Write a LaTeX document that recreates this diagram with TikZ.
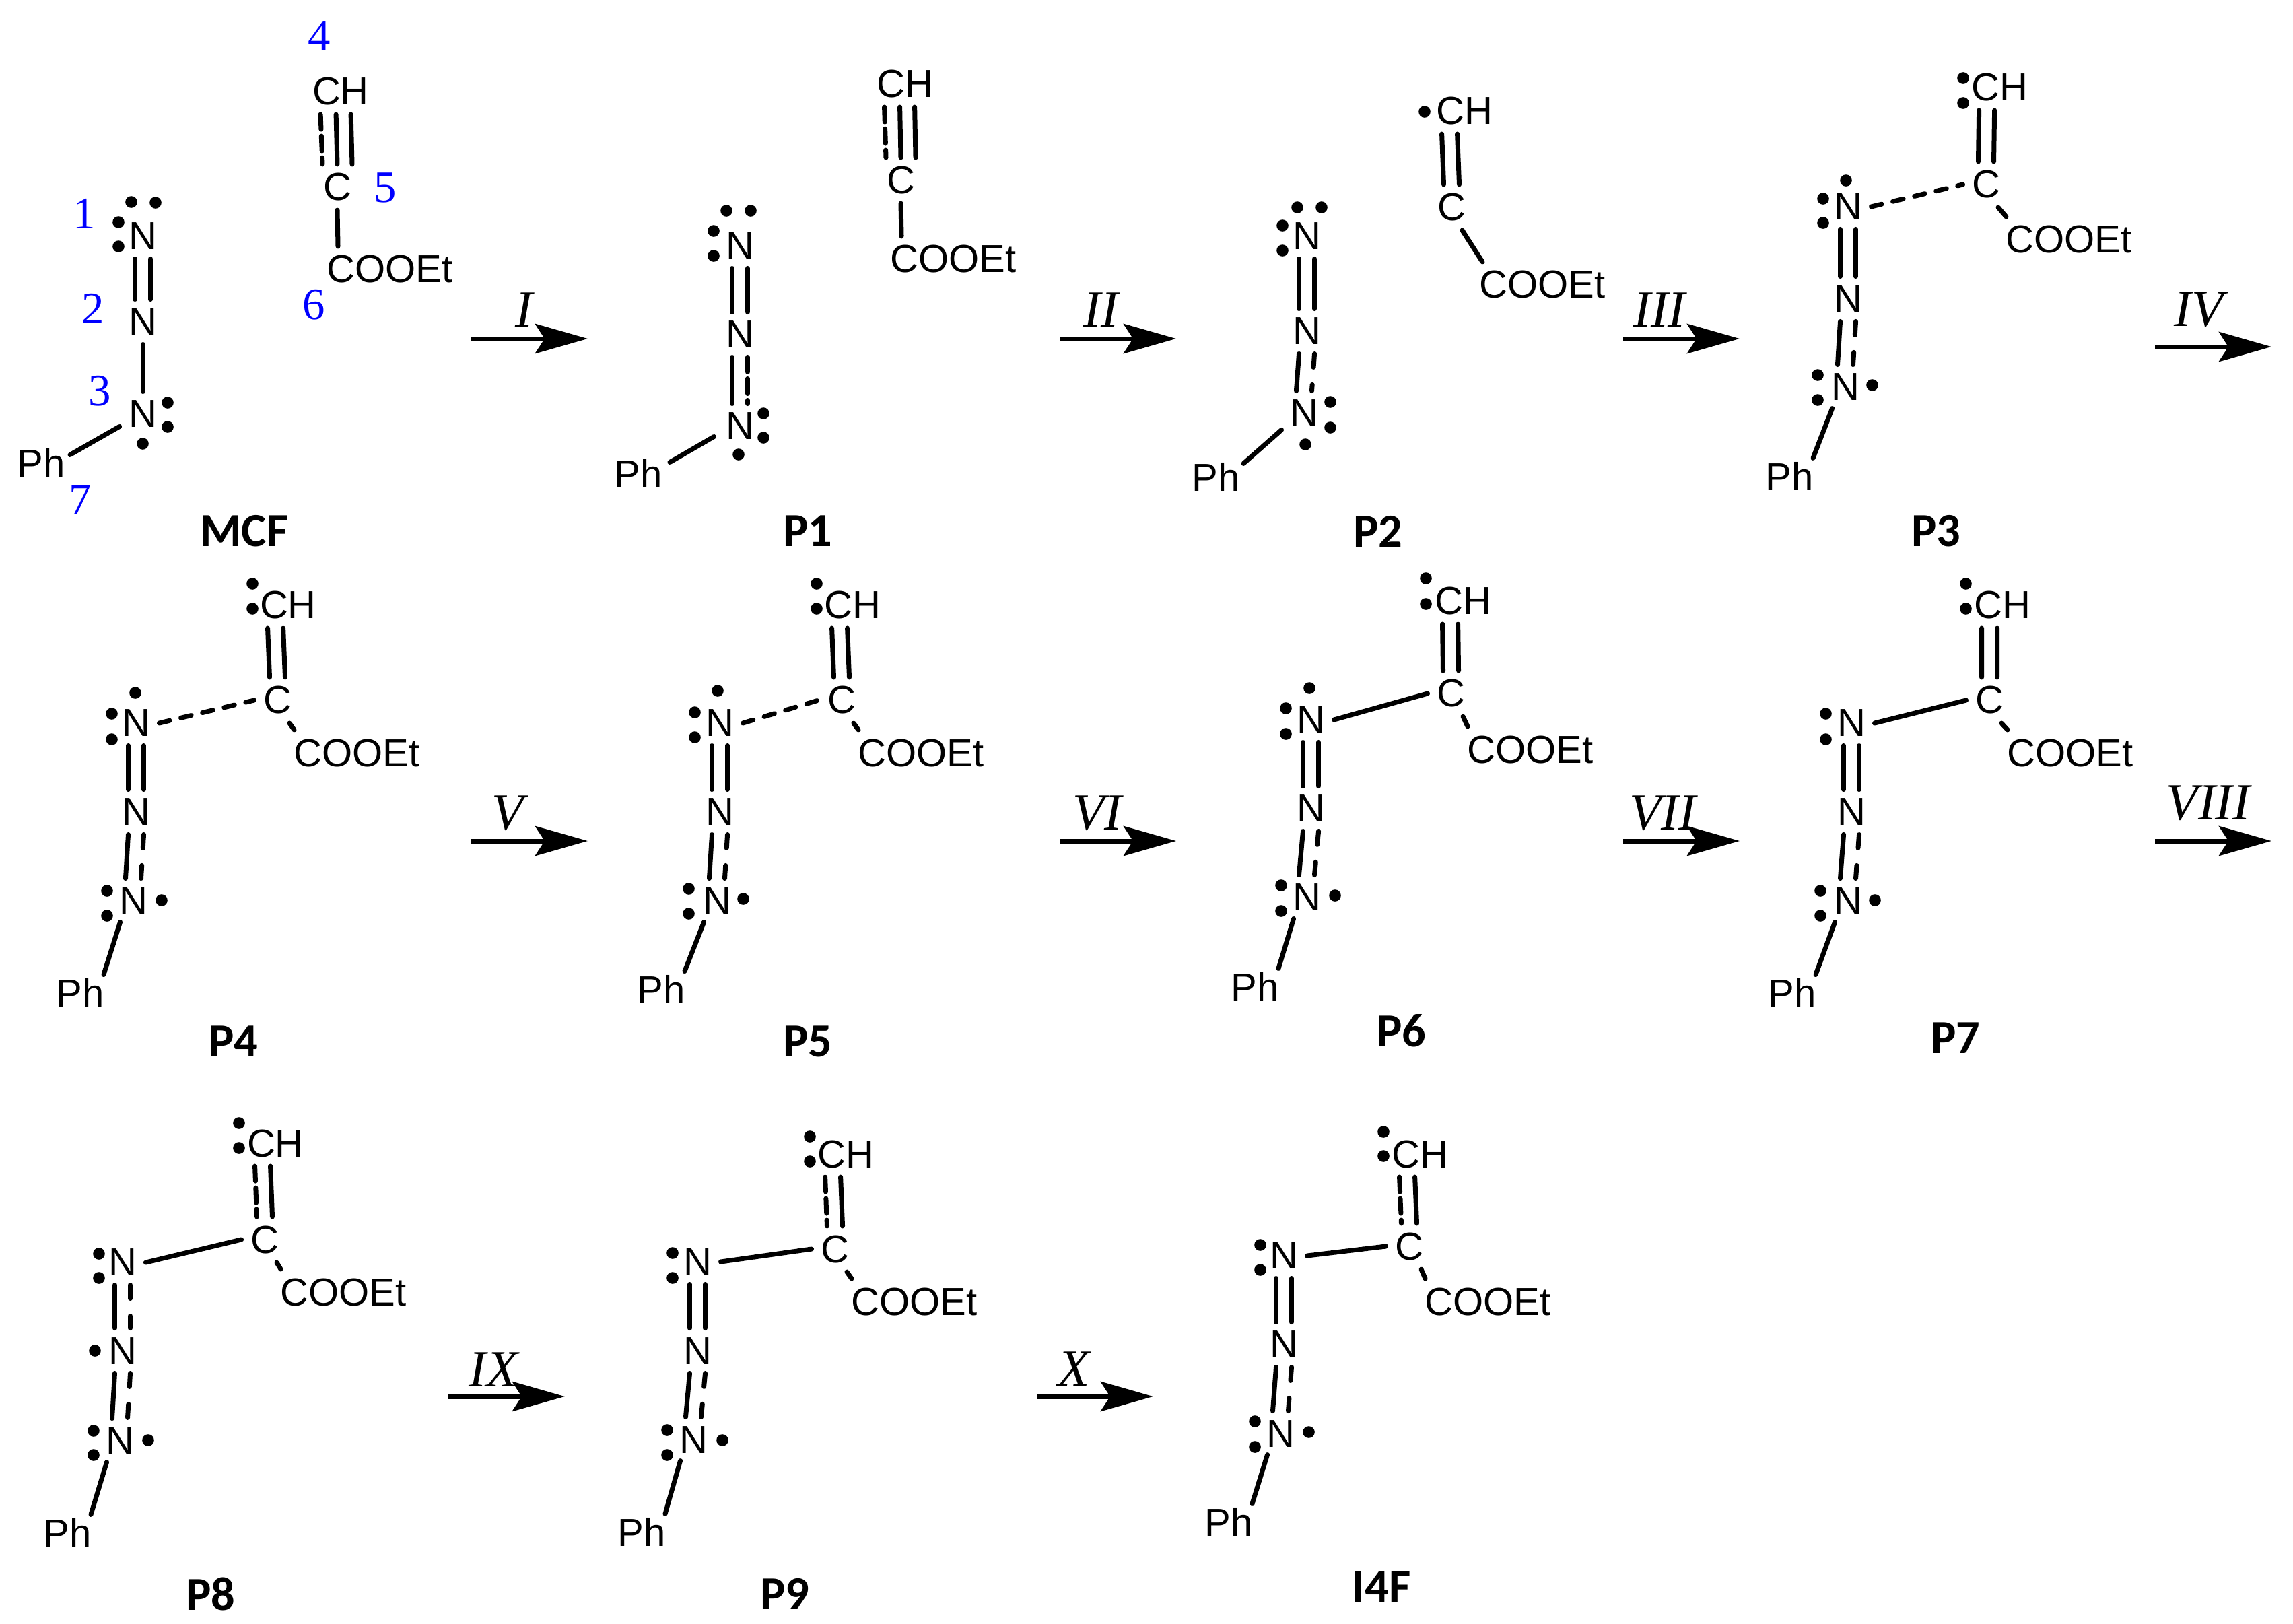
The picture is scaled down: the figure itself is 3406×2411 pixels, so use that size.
\documentclass[tikz,border=0pt]{standalone}
\usepackage{fontspec}
\setmainfont{Liberation Sans}
\newfontfamily\labelfont{Carlito}
\newfontfamily\numfont{Liberation Serif}
\usetikzlibrary{arrows.meta}

\tikzset{
	atom/.style = {font=\fontsize{16.5}{18}\selectfont, inner sep=.135cm, outer sep=0pt},
	name label/.style = {font=\labelfont\bfseries\fontsize{20}{22}\selectfont, inner sep=0pt},
	site/.style = {font=\numfont\fontsize{19}{21}\selectfont, text=blue, inner sep=0pt},
	step label/.style = {font=\numfont\itshape\fontsize{22}{24}\selectfont, inner sep=0pt},
	bond/.style = {line width=.07cm, line cap=round},
	bond fine/.style = {bond, dash pattern=on .22cm off .10cm},
	bond dash/.style = {bond, dash pattern=on .20cm off .26cm},
	bond long/.style = {bond, dash pattern=on .16cm off .17cm},
	rxn/.style = {line width=.07cm, -{Stealth[length=.78cm,width=.44cm,inset=.14cm]}}
}

\begin{document}
\begin{tikzpicture}[x=.01cm,y=-.01cm]
	\useasboundingbox (0,0) rectangle (3406,2411);

	\node[atom] (mcfn1) at (212,351) {N};
	\node[atom] (mcfn2) at (212,478) {N};
	\node[atom] (mcfn3) at (212,615) {N};
	\node[atom] (mcfph) at (61,687) {Ph};
	\node[atom] (mcfch) at (506,136) {CH};
	\node[atom] (mcfc) at (501,278) {C};
	\node[atom] (mcfest) at (579,400) {COOEt};
	\node[name label] (mcflab) at (363,789) {MCF};
	\foreach \s in {-.115cm,.115cm} \draw[bond] ([xshift=\s]mcfn1.south) -- ([xshift=\s]mcfn2.north);
	\draw[bond] (mcfn2.south) -- (mcfn3.north);
	\draw[bond] ([yshift=.15cm]mcfn3.south west) -- ([xshift=-.06cm,yshift=-.23cm]mcfph.north east);
	\draw[bond fine] ([xshift=.255cm]mcfch.south west) -- ([xshift=-.22cm]mcfc.north);
	\draw[bond] ([xshift=.485cm]mcfch.south west) -- (mcfc.north);
	\draw[bond] ([xshift=.705cm]mcfch.south west) -- ([xshift=.22cm]mcfc.north);
	\draw[bond] (mcfc.south) -- ([xshift=.30cm]mcfest.north west);
	\foreach \p in {(195,300),(231,301),(176,330),(176,366),(249,598),(249,634),(212,659)} \fill \p circle (.088cm);
	\node[site] (s1) at (125,317) {1};
	\node[site] (s2) at (138,458) {2};
	\node[site] (s3) at (148,581) {3};
	\node[site] (s4) at (474,53) {4};
	\node[site] (s5) at (572,279) {5};
	\node[site] (s6) at (466,453) {6};
	\node[site] (s7) at (119,743) {7};

	\node[atom] (p1n1) at (1099,365) {N};
	\node[atom] (p1n2) at (1099,497) {N};
	\node[atom] (p1n3) at (1099,633) {N};
	\node[atom] (p1ph) at (948,703) {Ph};
	\node[atom] (p1ch) at (1344,125) {CH};
	\node[atom] (p1c) at (1338,268) {C};
	\node[atom] (p1est) at (1416,385) {COOEt};
	\node[name label] (p1lab) at (1200,789) {P1};
	\foreach \s in {-.115cm,.115cm} \draw[bond] ([xshift=\s]p1n1.south) -- ([xshift=\s]p1n2.north);
	\draw[bond] ([xshift=-.115cm]p1n2.south) -- ([xshift=-.115cm]p1n3.north);
	\draw[bond fine] ([xshift=.115cm]p1n2.south) -- ([xshift=.115cm]p1n3.north);
	\draw[bond] ([xshift=-.04cm,yshift=.18cm]p1n3.south west) -- ([xshift=-.02cm,yshift=-.18cm]p1ph.north east);
	\draw[bond fine] ([xshift=.25cm]p1ch.south west) -- ([xshift=-.22cm]p1c.north);
	\draw[bond] ([xshift=.48cm]p1ch.south west) -- (p1c.north);
	\draw[bond] ([xshift=.70cm]p1ch.south west) -- ([xshift=.22cm]p1c.north);
	\draw[bond] (p1c.south) -- ([xshift=.30cm]p1est.north west);
	\foreach \p in {(1079,313),(1115,313),(1060,343),(1060,380),(1134,614),(1134,650),(1097,675)} \fill \p circle (.088cm);

	\node[atom] (p2n1) at (1941,351) {N};
	\node[atom] (p2n2) at (1941,492) {N};
	\node[atom] (p2n3) at (1937,614) {N};
	\node[atom] (p2ph) at (1806,708) {Ph};
	\node[atom] (p2ch) at (2175,165) {CH};
	\node[atom] (p2c) at (2156,308) {C};
	\node[atom] (p2est) at (2291,423) {COOEt};
	\node[name label] (p2lab) at (2047,789) {P2};
	\foreach \s in {-.115cm,.115cm} \draw[bond] ([xshift=\s]p2n1.south) -- ([xshift=\s]p2n2.north);
	\draw[bond] ([xshift=-.115cm]p2n2.south) -- ([xshift=-.115cm]p2n3.north);
	\draw[bond dash] ([xshift=.115cm]p2n2.south) -- ([xshift=.115cm]p2n3.north);
	\draw[bond] ([xshift=.01cm,yshift=.09cm]p2n3.south west) -- ([xshift=-.08cm,yshift=-.15cm]p2ph.north east);
	\draw[bond] ([xshift=.22cm]p2ch.south west) -- ([xshift=-.115cm]p2c.north);
	\draw[bond] ([xshift=.45cm]p2ch.south west) -- ([xshift=.115cm]p2c.north);
	\draw[bond] ([xshift=.16cm]p2c.south) -- ([xshift=.18cm]p2est.north west);
	\foreach \p in {(1927,308),(1963,308),(1905,335),(1905,372),(1976,597),(1976,635),(1939,660),(2116,166)} \fill \p circle (.088cm);

	\node[atom] (p3n1) at (2745,307) {N};
	\node[atom] (p3n2) at (2745,444) {N};
	\node[atom] (p3n3) at (2741,575) {N};
	\node[atom] (p3ph) at (2658,707) {Ph};
	\node[atom] (p3ch) at (2970,130) {CH};
	\node[atom] (p3c) at (2950,274) {C};
	\node[atom] (p3est) at (3073,356) {COOEt};
	\node[name label] (p3lab) at (2876,789) {P3};
	\foreach \s in {-.115cm,.115cm} \draw[bond] ([xshift=\s]p3n1.south) -- ([xshift=\s]p3n2.north);
	\draw[bond] ([xshift=-.115cm]p3n2.south) -- ([xshift=-.115cm]p3n3.north);
	\draw[bond dash] ([xshift=.115cm]p3n2.south) -- ([xshift=.115cm]p3n3.north);
	\draw[bond long] (p3n1.east) -- (p3c.west);
	\draw[bond] ([xshift=.15cm,yshift=.02cm]p3n3.south west) -- ([xshift=-.14cm,yshift=-.08cm]p3ph.north east);
	\draw[bond] ([xshift=.25cm]p3ch.south west) -- ([xshift=-.115cm]p3c.north);
	\draw[bond] ([xshift=.48cm]p3ch.south west) -- ([xshift=.115cm]p3c.north);
	\draw[bond] ([xshift=.18cm]p3c.south) -- ([xshift=.14cm]p3est.north west);
	\foreach \p in {(2742,268),(2708,295),(2708,331),(2700,557),(2700,594),(2781,572),(2916,116),(2916,153)} \fill \p circle (.088cm);

	\node[atom] (p4n1) at (202,1074) {N};
	\node[atom] (p4n2) at (202,1206) {N};
	\node[atom] (p4n3) at (198,1338) {N};
	\node[atom] (p4ph) at (119,1474) {Ph};
	\node[atom] (p4ch) at (428,899) {CH};
	\node[atom] (p4c) at (412,1040) {C};
	\node[atom] (p4est) at (530,1118) {COOEt};
	\node[name label] (p4lab) at (347,1547) {P4};
	\foreach \s in {-.115cm,.115cm} \draw[bond] ([xshift=\s]p4n1.south) -- ([xshift=\s]p4n2.north);
	\draw[bond] ([xshift=-.115cm]p4n2.south) -- ([xshift=-.115cm]p4n3.north);
	\draw[bond dash] ([xshift=.115cm]p4n2.south) -- ([xshift=.115cm]p4n3.north);
	\draw[bond long] (p4n1.east) -- (p4c.west);
	\draw[bond] ([xshift=.15cm,yshift=.02cm]p4n3.south west) -- ([xshift=-.14cm,yshift=-.08cm]p4ph.north east);
	\draw[bond] ([xshift=.25cm]p4ch.south west) -- ([xshift=-.115cm]p4c.north);
	\draw[bond] ([xshift=.48cm]p4ch.south west) -- ([xshift=.115cm]p4c.north);
	\draw[bond] ([xshift=.18cm]p4c.south) -- ([xshift=.14cm]p4est.north west);
	\foreach \p in {(201,1029),(166,1060),(166,1098),(159,1323),(159,1360),(240,1337),(375,867),(375,904)} \fill \p circle (.088cm);

	\node[atom] (p5n1) at (1069,1074) {N};
	\node[atom] (p5n2) at (1069,1206) {N};
	\node[atom] (p5n3) at (1065,1338) {N};
	\node[atom] (p5ph) at (982,1469) {Ph};
	\node[atom] (p5ch) at (1266,899) {CH};
	\node[atom] (p5c) at (1250,1040) {C};
	\node[atom] (p5est) at (1368,1118) {COOEt};
	\node[name label] (p5lab) at (1200,1547) {P5};
	\foreach \s in {-.115cm,.115cm} \draw[bond] ([xshift=\s]p5n1.south) -- ([xshift=\s]p5n2.north);
	\draw[bond] ([xshift=-.115cm]p5n2.south) -- ([xshift=-.115cm]p5n3.north);
	\draw[bond dash] ([xshift=.115cm]p5n2.south) -- ([xshift=.115cm]p5n3.north);
	\draw[bond long] (p5n1.east) -- (p5c.west);
	\draw[bond] ([xshift=.15cm,yshift=.02cm]p5n3.south west) -- ([xshift=-.14cm,yshift=-.08cm]p5ph.north east);
	\draw[bond] ([xshift=.25cm]p5ch.south west) -- ([xshift=-.115cm]p5c.north);
	\draw[bond] ([xshift=.48cm]p5ch.south west) -- ([xshift=.115cm]p5c.north);
	\draw[bond] ([xshift=.18cm]p5c.south) -- ([xshift=.14cm]p5est.north west);
	\foreach \p in {(1066,1026),(1032,1058),(1032,1095),(1023,1320),(1023,1357),(1104,1335),(1213,867),(1213,904)} \fill \p circle (.088cm);

	\node[atom] (p6n1) at (1947,1069) {N};
	\node[atom] (p6n2) at (1947,1201) {N};
	\node[atom] (p6n3) at (1941,1333) {N};
	\node[atom] (p6ph) at (1864,1465) {Ph};
	\node[atom] (p6ch) at (2173,893) {CH};
	\node[atom] (p6c) at (2155,1030) {C};
	\node[atom] (p6est) at (2273,1113) {COOEt};
	\node[name label] (p6lab) at (2082,1531) {P6};
	\foreach \s in {-.115cm,.115cm} \draw[bond] ([xshift=\s]p6n1.south) -- ([xshift=\s]p6n2.north);
	\draw[bond] ([xshift=-.115cm]p6n2.south) -- ([xshift=-.115cm]p6n3.north);
	\draw[bond dash] ([xshift=.115cm]p6n2.south) -- ([xshift=.115cm]p6n3.north);
	\draw[bond] (p6n1.east) -- (p6c.west);
	\draw[bond] ([xshift=.15cm,yshift=.02cm]p6n3.south west) -- ([xshift=-.14cm,yshift=-.08cm]p6ph.north east);
	\draw[bond] ([xshift=.25cm]p6ch.south west) -- ([xshift=-.115cm]p6c.north);
	\draw[bond] ([xshift=.48cm]p6ch.south west) -- ([xshift=.115cm]p6c.north);
	\draw[bond] ([xshift=.18cm]p6c.south) -- ([xshift=.14cm]p6est.north west);
	\foreach \p in {(1945,1022),(1910,1052),(1910,1090),(1903,1315),(1903,1353),(1983,1330),(2118,859),(2118,897)} \fill \p circle (.088cm);

	\node[atom] (p7n1) at (2750,1074) {N};
	\node[atom] (p7n2) at (2750,1206) {N};
	\node[atom] (p7n3) at (2745,1338) {N};
	\node[atom] (p7ph) at (2662,1474) {Ph};
	\node[atom] (p7ch) at (2974,899) {CH};
	\node[atom] (p7c) at (2955,1040) {C};
	\node[atom] (p7est) at (3075,1118) {COOEt};
	\node[name label] (p7lab) at (2905,1542) {P7};
	\foreach \s in {-.115cm,.115cm} \draw[bond] ([xshift=\s]p7n1.south) -- ([xshift=\s]p7n2.north);
	\draw[bond] ([xshift=-.115cm]p7n2.south) -- ([xshift=-.115cm]p7n3.north);
	\draw[bond dash] ([xshift=.115cm]p7n2.south) -- ([xshift=.115cm]p7n3.north);
	\draw[bond] (p7n1.east) -- (p7c.west);
	\draw[bond] ([xshift=.15cm,yshift=.02cm]p7n3.south west) -- ([xshift=-.14cm,yshift=-.08cm]p7ph.north east);
	\draw[bond] ([xshift=.25cm]p7ch.south west) -- ([xshift=-.115cm]p7c.north);
	\draw[bond] ([xshift=.48cm]p7ch.south west) -- ([xshift=.115cm]p7c.north);
	\draw[bond] ([xshift=.18cm]p7c.south) -- ([xshift=.14cm]p7est.north west);
	\foreach \p in {(2712,1060),(2712,1098),(2704,1323),(2704,1360),(2785,1337),(2920,867),(2920,904)} \fill \p circle (.088cm);

	\node[atom] (p8n1) at (182,1875) {N};
	\node[atom] (p8n2) at (182,2006) {N};
	\node[atom] (p8n3) at (178,2140) {N};
	\node[atom] (p8ph) at (100,2276) {Ph};
	\node[atom] (p8ch) at (409,1698) {CH};
	\node[atom] (p8c) at (393,1841) {C};
	\node[atom] (p8est) at (510,1919) {COOEt};
	\node[name label] (p8lab) at (313,2367) {P8};
	\draw[bond] ([xshift=-.115cm]p8n1.south) -- ([xshift=-.115cm]p8n2.north);
	\draw[bond dash] ([xshift=.115cm]p8n1.south) -- ([xshift=.115cm]p8n2.north);
	\draw[bond] ([xshift=-.115cm]p8n2.south) -- ([xshift=-.115cm]p8n3.north);
	\draw[bond dash] ([xshift=.115cm]p8n2.south) -- ([xshift=.115cm]p8n3.north);
	\draw[bond] (p8n1.east) -- (p8c.west);
	\draw[bond] ([xshift=.15cm,yshift=.02cm]p8n3.south west) -- ([xshift=-.14cm,yshift=-.08cm]p8ph.north east);
	\draw[bond fine] ([xshift=.25cm]p8ch.south west) -- ([xshift=-.115cm]p8c.north);
	\draw[bond] ([xshift=.48cm]p8ch.south west) -- ([xshift=.115cm]p8c.north);
	\draw[bond] ([xshift=.18cm]p8c.south) -- ([xshift=.14cm]p8est.north west);
	\foreach \p in {(147,1862),(147,1898),(141,2006),(139,2125),(139,2161),(220,2139),(355,1668),(355,1705)} \fill \p circle (.088cm);

	\node[atom] (p9n1) at (1036,1874) {N};
	\node[atom] (p9n2) at (1036,2006) {N};
	\node[atom] (p9n3) at (1030,2138) {N};
	\node[atom] (p9ph) at (953,2275) {Ph};
	\node[atom] (p9ch) at (1256,1714) {CH};
	\node[atom] (p9c) at (1240,1855) {C};
	\node[atom] (p9est) at (1358,1933) {COOEt};
	\node[name label] (p9lab) at (1166,2367) {P9};
	\foreach \s in {-.115cm,.115cm} \draw[bond] ([xshift=\s]p9n1.south) -- ([xshift=\s]p9n2.north);
	\draw[bond] ([xshift=-.115cm]p9n2.south) -- ([xshift=-.115cm]p9n3.north);
	\draw[bond dash] ([xshift=.115cm]p9n2.south) -- ([xshift=.115cm]p9n3.north);
	\draw[bond] (p9n1.east) -- (p9c.west);
	\draw[bond] ([xshift=.15cm,yshift=.02cm]p9n3.south west) -- ([xshift=-.14cm,yshift=-.08cm]p9ph.north east);
	\draw[bond fine] ([xshift=.25cm]p9ch.south west) -- ([xshift=-.115cm]p9c.north);
	\draw[bond] ([xshift=.48cm]p9ch.south west) -- ([xshift=.115cm]p9c.north);
	\draw[bond] ([xshift=.18cm]p9c.south) -- ([xshift=.14cm]p9est.north west);
	\foreach \p in {(999,1861),(999,1898),(991,2124),(991,2161),(1073,2139),(1203,1688),(1203,1725)} \fill \p circle (.088cm);

	\node[atom] (i4n1) at (1907,1865) {N};
	\node[atom] (i4n2) at (1907,1997) {N};
	\node[atom] (i4n3) at (1902,2129) {N};
	\node[atom] (i4ph) at (1825,2260) {Ph};
	\node[atom] (i4ch) at (2109,1714) {CH};
	\node[atom] (i4c) at (2093,1851) {C};
	\node[atom] (i4est) at (2210,1933) {COOEt};
	\node[name label] (i4lab) at (2052,2357) {I4F};
	\foreach \s in {-.115cm,.115cm} \draw[bond] ([xshift=\s]i4n1.south) -- ([xshift=\s]i4n2.north);
	\draw[bond] ([xshift=-.115cm]i4n2.south) -- ([xshift=-.115cm]i4n3.north);
	\draw[bond dash] ([xshift=.115cm]i4n2.south) -- ([xshift=.115cm]i4n3.north);
	\draw[bond] (i4n1.east) -- (i4c.west);
	\draw[bond] ([xshift=.15cm,yshift=.02cm]i4n3.south west) -- ([xshift=-.14cm,yshift=-.08cm]i4ph.north east);
	\draw[bond fine] ([xshift=.25cm]i4ch.south west) -- ([xshift=-.115cm]i4c.north);
	\draw[bond] ([xshift=.48cm]i4ch.south west) -- ([xshift=.115cm]i4c.north);
	\draw[bond] ([xshift=.18cm]i4c.south) -- ([xshift=.14cm]i4est.north west);
	\foreach \p in {(1872,1849),(1872,1886),(1864,2111),(1864,2149),(1944,2127),(2055,1681),(2055,1717)} \fill \p circle (.088cm);

	\foreach \n/\ax/\ay/\lx/\ly/\txt in {1/700/503/778/460/I, 2/1574/503/1635/460/II, 3/2411/503/2465/460/III, 4/3201/515/3266/460/IV, 5/700/1249/754/1208/V, 6/1574/1249/1630/1208/VI, 7/2411/1249/2470/1208/VII, 8/3201/1249/3280/1193/VIII, 9/666/2074/733/2034/IX, 10/1540/2074/1595/2033/X} {
		\coordinate (a\n) at (\ax,\ay);
		\coordinate (b\n) at (\ax+173,\ay);
		\draw[rxn] (a\n) -- (b\n);
		\node[step label] (st\n) at (\lx,\ly) {\txt};
	}
\end{tikzpicture}
\end{document}
